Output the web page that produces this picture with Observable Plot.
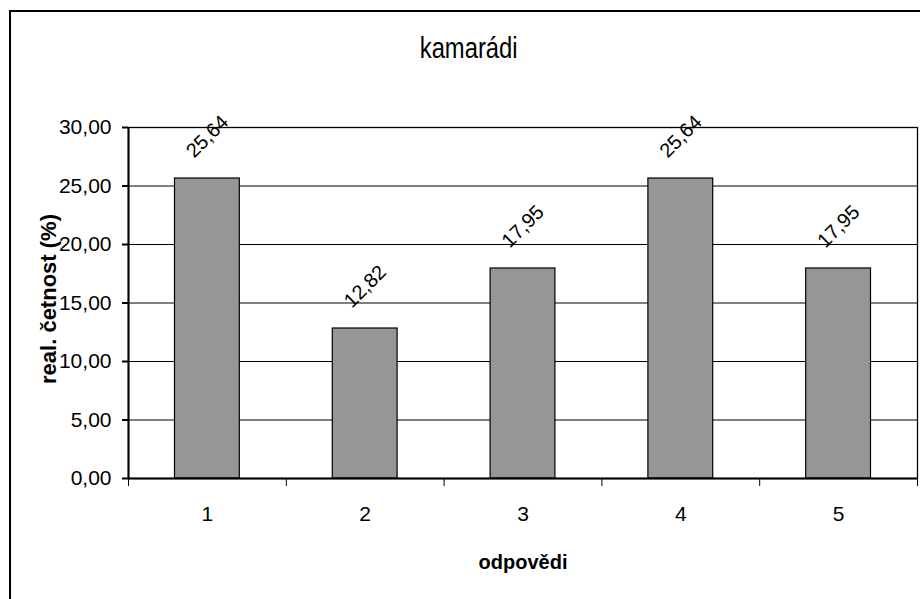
<!DOCTYPE html>
<html>
<head>
<meta charset="utf-8">
<script src="https://cdn.jsdelivr.net/npm/d3@7"></script>
<script src="https://cdn.jsdelivr.net/npm/@observablehq/plot@0.6"></script>
<style>
  html, body { margin: 0; padding: 0; background: #fff; }
  #wrap { position: relative; width: 920px; height: 599px; overflow: hidden; background: #fff;
          font-family: "Liberation Sans", Arial, sans-serif; }
  #border { position: absolute; left: 9px; top: 10px; width: 1000px; height: 1000px;
            border-left: 2px solid #000; border-top: 2px solid #000; box-sizing: border-box; }
  #title { position: absolute; left: 0; width: 937px; top: 32px; text-align: center;
           font-size: 29px; line-height: 32px; color: #000; }
  #title span { display: inline-block; transform: scaleX(0.82); }
  #chart { position: absolute; left: 0; top: 0; }
  #chart svg { overflow: visible; }
</style>
</head>
<body>
<div id="wrap">
  <div id="border"></div>
  <div id="title"><span>kamarádi</span></div>
  <div id="chart"></div>
</div>
<script>
const categories = [1, 2, 3, 4, 5];
const values = [25.64, 12.82, 17.95, 25.64, 17.95];
const yTicks = [0, 5, 10, 15, 20, 25, 30];
const yLabel = "real. četnost (%)";
const xLabel = "odpovědi";

const data = categories.map((c, i) => ({cat: c, value: values[i]}));
const boundaries = categories.map(c => c - 0.5).concat([categories[categories.length - 1] + 0.5]);
const fmt = v => v.toFixed(2).replace(".", ",");
const font = "Liberation Sans, Arial, sans-serif";

const chart = Plot.plot({
  width: 920,
  height: 599,
  marginTop: 127,
  marginRight: 3,
  marginBottom: 121,
  marginLeft: 128,
  style: {fontFamily: font, color: "#000", background: "transparent", overflow: "visible"},
  x: {type: "linear", domain: [boundaries[0], boundaries[boundaries.length - 1]]},
  y: {domain: [0, 30]},
  marks: [
    Plot.ruleY(yTicks.filter(t => t > 0 && t < 30), {stroke: "#000", strokeWidth: 1}),
    Plot.frame({stroke: "#000", strokeWidth: 1.3}),
    Plot.rectY(data, {
      x1: d => d.cat - 0.5, x2: d => d.cat + 0.5, y1: 0, y2: "value",
      insetLeft: 46.5, insetRight: 46.5,
      fill: "#969696", stroke: "#000", strokeWidth: 1.2
    }),
    Plot.ruleY([0], {stroke: "#000", strokeWidth: 2}),
    Plot.ruleX([boundaries[0]], {stroke: "#000", strokeWidth: 2}),
    Plot.axisY({
      ticks: yTicks, tickSize: 6, tickPadding: 11, tickFormat: fmt,
      fontSize: 21, stroke: "#000", strokeWidth: 2, label: null
    }),
    Plot.axisX({
      ticks: boundaries, tickSize: 8, tickFormat: () => "", stroke: "#000",
      strokeWidth: 1, label: null
    }),
    Plot.axisX({
      ticks: categories, tickSize: 0, tickPadding: 28, tickFormat: d => String(d),
      fontSize: 21, label: null
    }),
    Plot.text(data, {
      x: "cat", y: "value", text: d => fmt(d.value),
      rotate: -45, dy: -42, textAnchor: "middle", lineAnchor: "middle",
      fontSize: 20, fill: "#000"
    }),
    Plot.text([yLabel], {
      frameAnchor: "left", dx: -73, dy: -4, rotate: -90,
      textAnchor: "middle", lineAnchor: "bottom",
      fontSize: 22, fontWeight: "bold", fill: "#000", letterSpacing: 1.4
    }),
    Plot.text([xLabel], {
      frameAnchor: "bottom", dy: 90, textAnchor: "middle", lineAnchor: "bottom",
      fontSize: 20, fontWeight: "bold", fill: "#000"
    })
  ]
});
document.getElementById("chart").appendChild(chart);
</script>
</body>
</html>
